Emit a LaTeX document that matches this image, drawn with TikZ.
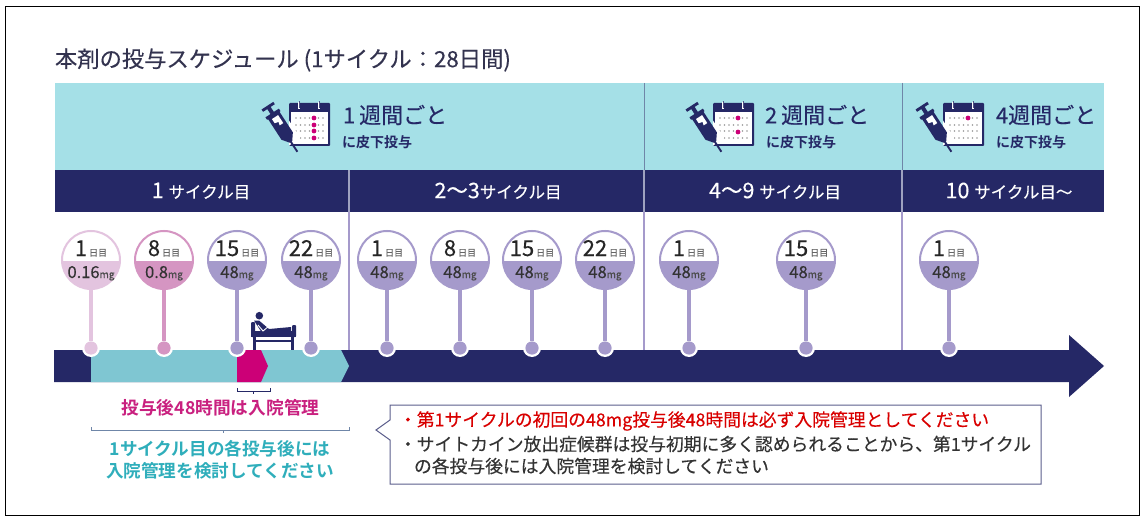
\documentclass[tikz,border=0pt]{standalone}
\usepackage{fontspec}
\setmainfont[FakeBold=0.3,BoldFont={Noto Sans CJK JP Bold},BoldFeatures={FakeBold=0}]{Noto Sans CJK JP}
\usetikzlibrary{calc}
\definecolor{navy}{HTML}{252866}
\definecolor{headbg}{HTML}{A5E0E7}
\definecolor{barteal}{HTML}{7FC6D2}
\definecolor{mag}{HTML}{CC0077}
\definecolor{pinkA}{HTML}{E3C4DF}
\definecolor{pinkB}{HTML}{D595C2}
\definecolor{purp}{HTML}{A59ACB}
\definecolor{tealtxt}{HTML}{2FAEBB}
\definecolor{magtxt}{HTML}{C9207F}
\definecolor{inktxt}{HTML}{33334F}
\definecolor{sepA}{HTML}{6F86A8}
\definecolor{sepB}{HTML}{9FA2C0}
\newcommand{\fs}[1]{\fontsize{#1}{#1}\selectfont}
\tikzset{
  txt/.style={inner sep=0pt,outer sep=0pt},
  brk/.style={draw=#1,line width=1pt},
  stemline/.style={line width=3.2pt},
}
% name, x, colour, day, dose
\newcommand{\dosepin}[5]{%
  \node[circle,minimum size=18pt,inner sep=0pt,fill=white] (h#1) at (#2,348) {};
  \node[circle,minimum size=13.2pt,inner sep=0pt,fill=#3] (d#1) at (#2,348) {};
  \node[circle,minimum size=58pt,inner sep=0pt,draw=#3,line width=2pt,fill=white,
        path picture={\fill[#3] (-31,1) rectangle (31,32);}] (c#1) at (#2,260) {};
  \draw[#3,stemline] (c#1) -- (d#1);
  \node[txt,anchor=base] (t#1) at (#2,256) {\fs{22}\textcolor{black!85}{#4}\hspace{2pt}\fs{9}\textcolor{black!60}{日目}};
  \node[txt,anchor=base] (v#1) at (#2,278) {\fs{16.5}\textcolor{black!80}{#5}\fs{10}\textcolor{black!70}{mg}};
}
% x of calendar left, highlight col, rows (relative to calendar top)
\newcommand{\calicon}[3]{%
  \begin{scope}[shift={(#1,103)}]
    \fill[navy,rounded corners=1pt] (0,0) rectangle (41,43);
    \fill[white] (2,9) rectangle (39,41);
    \foreach \r in {15,22,28,35}{\foreach \c in {7,11.5,16,20.5,25,29.5,34}{\fill[black!40] (\c,\r) circle (0.9);}}
    \foreach \r in {#3}{\fill[mag] (#2,\r) circle (2.4);}
    \foreach \c in {10,30}{\draw[white,line width=2.8pt] (\c,-1) -- (\c,6); \draw[navy!80,line width=0.8pt] (\c,-1.5) -- (\c,5);}
    % syringe, drawn along its axis
    \begin{scope}
      \clip (0,0) rectangle (41,43);
      \begin{scope}[shift={(-22,2)},rotate=-57]
        \fill[white] (8,-10) rectangle (46,10);
      \end{scope}
    \end{scope}
    \begin{scope}[shift={(-22,2)},rotate=-57]
      \fill[navy] (0.8,-7) rectangle (3.6,7);
      \fill[navy] (2,-2) rectangle (11,2);
      \fill[navy] (9.5,-8) rectangle (12.5,8);
      \fill[navy] (12,-6.8) -- (37,-6.8) -- (44,-1.5) -- (44,1.5) -- (37,6.8) -- (12,6.8) -- cycle;
      \fill[white] (14.5,-3.8) -- (24,-3.8) -- (24,0.5) -- (20.5,-0.5) -- (19.5,3.5) -- (14.5,3.5) -- cycle;
      \draw[navy,line width=1.9pt] (43,0) -- (55.8,0);
    \end{scope}
  \end{scope}
}
\begin{document}
\begin{tikzpicture}[x=1pt,y=-1pt]
\useasboundingbox (0,0) rectangle (1143,516);
\fill[white] (0,0) rectangle (1143,516);
\draw[black,line width=1pt] (5,7) rectangle (1139,515);

\node[txt,anchor=west] (title) at (55,60) {\fs{22.3}\textcolor{inktxt}{本剤の投与スケジュール (1サイクル：28日間)}};

% header bands
\fill[headbg] (55,83) rectangle (1104,170);
\fill[navy] (55,170) rectangle (1104,212);
\draw[sepA,line width=1pt] (644,83) -- (644,170);
\draw[sepA,line width=1pt] (902,83) -- (902,170);
\foreach \x in {349,644,902}{
  \draw[sepB,line width=1.2pt] (\x,170) -- (\x,212);
  \draw[purp,line width=1.2pt] (\x,212) -- (\x,350);
}

\calicon{289}{25}{15,22,28,35}
\calicon{713}{25}{15,29}
\calicon{943}{25}{15}

\node[txt,anchor=west] (w1) at (343,115) {\fs{22}\textcolor{navy}{1\hspace{4pt}週間ごと}};
\node[txt,anchor=west] (s1) at (342,142) {\fs{14}\bfseries\textcolor{navy}{に皮下投与}};
\node[txt,anchor=west] (w2) at (765,115) {\fs{22}\textcolor{navy}{2\hspace{4pt}週間ごと}};
\node[txt,anchor=west] (s2) at (766,142) {\fs{14}\bfseries\textcolor{navy}{に皮下投与}};
\node[txt,anchor=west] (w4) at (996,115) {\fs{22}\textcolor{navy}{4週間ごと}};
\node[txt,anchor=west] (s4) at (996,142) {\fs{14}\bfseries\textcolor{navy}{に皮下投与}};

\node[txt,text=white] (n1) at (201,191) {\fs{21.5}1 \fs{16.5}サイクル目};
\node[txt,text=white] (n2) at (498,191) {\fs{21.5}2～3\fs{16.5}サイクル目};
\node[txt,text=white] (n3) at (775,191) {\fs{21.5}4～9 \fs{16.5}サイクル目};
\node[txt,text=white] (n4) at (1009,191) {\fs{21.5}10 \fs{16.5}サイクル目～};

% main arrow
\fill[navy] (54,350) -- (1069,350) -- (1069,335) -- (1104,366) -- (1069,397) -- (1069,382) -- (54,382) -- cycle;
\fill[barteal] (91,350) -- (341,350) -- (349,366) -- (341,382) -- (91,382) -- cycle;
\fill[mag] (237,350) -- (261,350) -- (268,366) -- (261,382) -- (237,382) -- cycle;

% pins
\dosepin{a}{91}{pinkA}{1}{0.16}
\dosepin{b}{164}{pinkB}{8}{0.8}
\dosepin{c}{237}{purp}{15}{48}
\dosepin{e}{311}{purp}{22}{48}
\dosepin{f}{387}{purp}{1}{48}
\dosepin{g}{460}{purp}{8}{48}
\dosepin{i}{532}{purp}{15}{48}
\dosepin{j}{605}{purp}{22}{48}
\dosepin{k}{689}{purp}{1}{48}
\dosepin{l}{806}{purp}{15}{48}
\dosepin{m}{949}{purp}{1}{48}

% patient on bed
\fill[navy] (259.3,315.7) circle (3.8);
\fill[navy,rounded corners=1pt] (251,322) rectangle (255,337);
\fill[navy,rounded corners=1pt] (292,325) rectangle (296,337);
\fill[navy] (251,331) rectangle (296,337);
\fill[navy] (254,320.5) -- (259,320.5) -- (269,329) -- (291,327) -- (291,332) -- (262,333) -- cycle;
\draw[white,line width=0.9pt] (258,325) -- (263,331) -- (269,326);
\fill[navy] (253,337) rectangle (255.5,350);
\fill[navy] (291,337) rectangle (293.5,350);
\fill[navy] (253,339.5) rectangle (293,341.5);

% brackets
\draw[brk=navy] (237.5,388) -- (237.5,391.5) -- (270,391.5) -- (270,388);
\draw[brk=navy] (253.5,391.5) -- (253.5,393.5);
\node[txt] (stay) at (220.5,408) {\fs{17.7}\bfseries\textcolor{magtxt}{投与後48時間は入院管理}};
\draw[brk=sepA] (91,427) -- (91,430.5) -- (349,430.5) -- (349,427);
\draw[brk=sepA] (223,430.5) -- (223,432.5);
\node[txt] (cy1) at (220,449) {\fs{17.6}\bfseries\textcolor{tealtxt}{1サイクル目の各投与後には}};
\node[txt] (cy2) at (220,471) {\fs{17.6}\bfseries\textcolor{tealtxt}{入院管理を検討してください}};

% callout
\draw[navy!75,line width=1pt,fill=white] (390,405) -- (1041,405) -- (1041,484) -- (390,484) -- (390,440) -- (376,430) -- (390,420) -- cycle;
\node[txt,anchor=west] (l1) at (399,421) {\fs{17.8}\textcolor{red!85!black}{・第1サイクルの初回の48mg投与後48時間は必ず入院管理としてください}};
\node[txt,anchor=west] (l2) at (399,444) {\fs{17.8}\textcolor{black!80}{・サイトカイン放出症候群は投与初期に多く認められることから、第1サイクル}};
\node[txt,anchor=west] (l3) at (414,466) {\fs{17.8}\textcolor{black!80}{の各投与後には入院管理を検討してください}};
\end{tikzpicture}
\end{document}
